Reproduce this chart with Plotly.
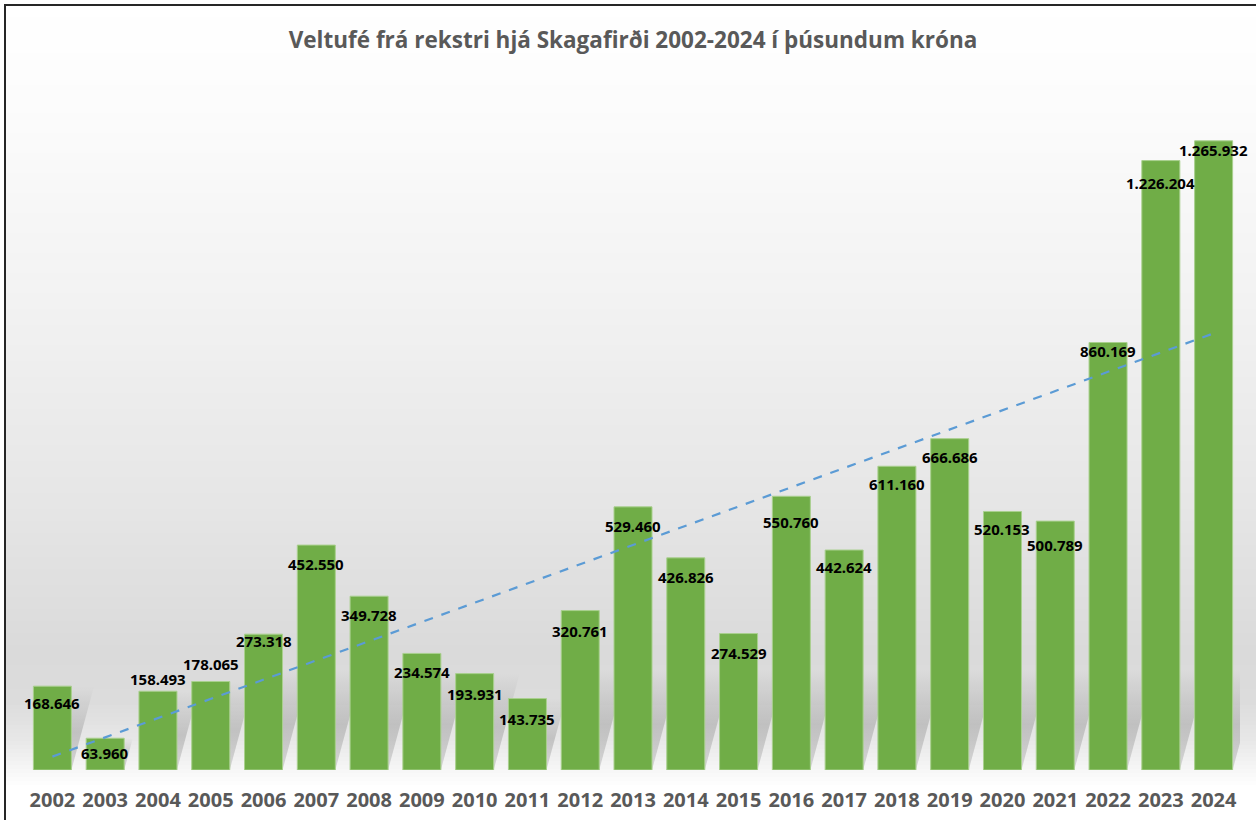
import numpy as np
import plotly.graph_objects as go

# Veltufé frá rekstri, þúsundir króna
years = list(range(2002, 2025))
values = [168646, 63960, 158493, 178065, 273318, 452550, 349728, 234574,
          193931, 143735, 320761, 529460, 426826, 274529, 550760, 442624,
          611160, 666686, 520153, 500789, 860169, 1226204, 1265932]
tick_labels = [str(y) for y in years]

# where each data label sits relative to its bar top (pixels, + is up)
label_shift = [-17, -15, 12, 18, -7, -19, -19, -19, -20, -20, -20, -19,
               -19, -19, -26, -17, -18, -18, -18, -24, -8, -22, -9]

W, H = 1256, 820
L, R, T, B = 26, 1240, 80, 770          # plot area in pixels
YMAX = 1388330
px_per_val = (B - T) / YMAX
slot = (R - L) / 23


def px(X):
    return (X - L) / (R - L)


def py(Y):
    return (B - Y) / (B - T)


def hexmix(c1, c2, t):
    a = [int(c1[i:i + 2], 16) for i in (1, 3, 5)]
    b = [int(c2[i:i + 2], 16) for i in (1, 3, 5)]
    return "#" + "".join(f"{round(a[k] + (b[k] - a[k]) * t):02x}" for k in range(3))


# background gradient (Excel-ish)
stops = [(0, "#ffffff"), (100, "#fcfcfc"), (300, "#f2f2f2"), (500, "#e6e6e6"),
         (650, "#dadada"), (700, "#dcdcdc"), (740, "#e8e8e8"), (770, "#f8f8f8"),
         (785, "#ffffff"), (820, "#ffffff")]
shapes = []
step = 4
for Y in range(5, 820, step):
    for (y0, c0), (y1, c1) in zip(stops[:-1], stops[1:]):
        if y0 <= Y < y1:
            col = hexmix(c0, c1, (Y - y0) / (y1 - y0))
            break
    shapes.append(dict(type="rect", xref="paper", yref="paper", layer="below",
                       x0=px(5), x1=px(1262), y0=py(Y + step + 0.5), y1=py(Y),
                       fillcolor=col, line_width=0))
shapes.append(dict(type="rect", xref="paper", yref="paper", layer="above",
                   x0=px(5), x1=px(1262), y0=py(830), y1=py(5),
                   line=dict(color="#262626", width=2), fillcolor="rgba(0,0,0,0)"))

fig = go.Figure()

# soft perspective shadows behind the bars
bw = 0.72
for x, v in zip(years, values):
    hpx = min(v * px_per_val, 100)
    hv = hpx / px_per_val
    dx = 0.27 * hpx / slot
    x0, x1 = x - bw / 2, x + bw / 2
    fig.add_trace(go.Scatter(
        x=[x0, x1, x1 + dx, x0 + dx, x0], y=[0, 0, hv, hv, 0],
        mode="lines", line=dict(width=0), fill="toself",
        fillgradient=dict(type="vertical", colorscale=[
            [0, "rgba(140,140,140,0.30)"], [0.45, "rgba(140,140,140,0.40)"],
            [1, "rgba(140,140,140,0.0)"]]),
        hoverinfo="skip", showlegend=False, xaxis="x", yaxis="y"))

fig.add_trace(go.Bar(
    x=years, y=values, width=bw, marker=dict(color="#70ad47", line=dict(color="#a9d08e", width=1)),
    showlegend=False, xaxis="x2", yaxis="y2"))

coef = np.polyfit(years, values, 1)
trend = np.polyval(coef, years)
fig.add_trace(go.Scatter(
    x=years, y=trend, mode="lines", line=dict(color="#5b9bd5", width=2.2, dash="dash"),
    showlegend=False, hoverinfo="skip", xaxis="x2", yaxis="y2"))

annotations = []
for x, v, s in zip(years, values, label_shift):
    annotations.append(dict(
        x=x, y=v, xref="x2", yref="y2", text=f"{v:,}".replace(",", "."),
        showarrow=False, yshift=s, yanchor="middle",
        font=dict(family="Noto Sans", size=15, color="#000000", weight="bold")))

fig.update_layout(
    width=W, height=H,
    margin=dict(l=L, r=W - R, t=T, b=H - B),
    paper_bgcolor="#ffffff", plot_bgcolor="rgba(0,0,0,0)",
    title=dict(text="Veltufé frá rekstri hjá Skagafirði 2002-2024 í þúsundum króna",
               x=0.5, xref="paper", y=1 - 40 / H, yanchor="middle",
               font=dict(family="Open Sans", size=22.5, color="#595959", weight="bold")),
    xaxis=dict(range=[2001.5, 2024.5], tickvals=years, ticktext=tick_labels,
               showgrid=False, zeroline=False, showline=False, ticks="",
               ticklabelstandoff=16, automargin=False,
               tickfont=dict(family="Open Sans", size=20, color="#595959", weight="bold")),
    yaxis=dict(range=[0, YMAX], visible=False, automargin=False),
    xaxis2=dict(range=[2001.5, 2024.5], overlaying="x", visible=False),
    yaxis2=dict(range=[0, YMAX], overlaying="y", visible=False),
    shapes=shapes, annotations=annotations,
)

fig.write_html("out.html", config={"displayModeBar": False},
               post_script="document.body.style.margin='0px';")
